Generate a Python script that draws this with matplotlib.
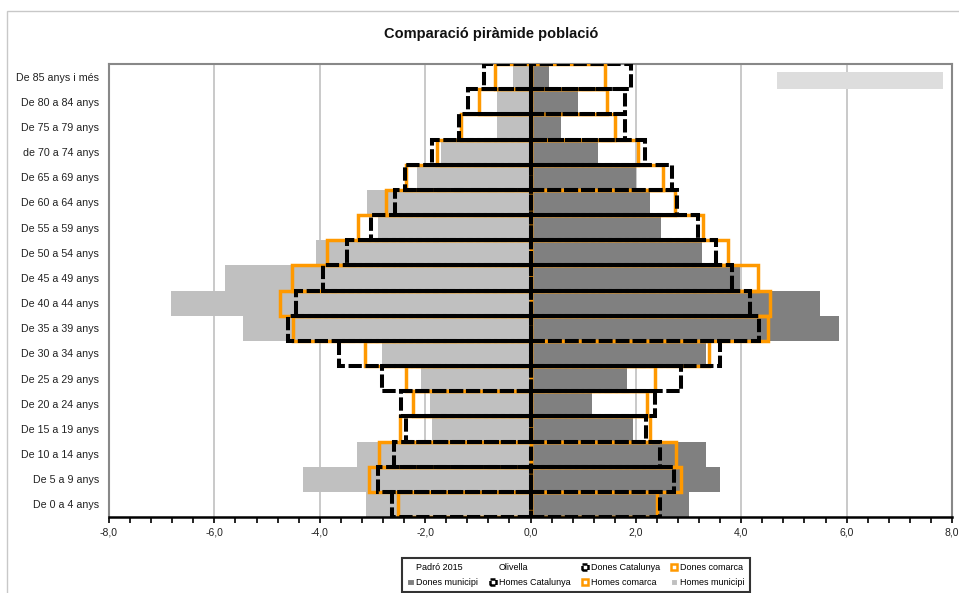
import matplotlib
matplotlib.use('Agg')
import matplotlib.pyplot as plt
import numpy as np
from matplotlib.patches import Patch, Rectangle
from matplotlib.ticker import MultipleLocator, FuncFormatter

plt.rcParams['font.family'] = ['Liberation Sans', 'DejaVu Sans']

# grups d'edat, de baix a dalt
edats = ['De 0 a 4 anys', 'De 5 a 9 anys', 'De 10 a 14 anys', 'De 15 a 19 anys',
         'De 20 a 24 anys', 'De 25 a 29 anys', 'De 30 a 34 anys', 'De 35 a 39 anys',
         'De 40 a 44 anys', 'De 45 a 49 anys', 'De 50 a 54 anys', 'De 55 a 59 anys',
         'De 60 a 64 anys', 'De 65 a 69 anys', 'de 70 a 74 anys', 'De 75 a 79 anys',
         'De 80 a 84 anys', 'De 85 anys i més']

homes_municipi = [3.13, 4.31, 3.29, 1.87, 1.90, 2.07, 2.82, 5.46, 6.83, 5.79,
                  4.07, 2.89, 3.11, 2.16, 1.69, 0.64, 0.64, 0.33]
homes_comarca = [2.52, 3.06, 2.87, 2.48, 2.23, 2.37, 3.15, 4.50, 4.75, 4.52,
                 3.86, 3.28, 2.74, 2.36, 1.78, 1.31, 0.98, 0.67]
homes_catalunya = [2.62, 2.89, 2.59, 2.36, 2.46, 2.82, 3.64, 4.60, 4.45, 3.93,
                   3.48, 3.02, 2.57, 2.38, 1.87, 1.36, 1.18, 0.89]

dones_municipi = [3.01, 3.60, 3.33, 1.94, 1.17, 1.83, 3.34, 5.86, 5.50, 3.98,
                  3.25, 2.48, 2.27, 2.01, 1.29, 0.57, 0.91, 0.35]
dones_comarca = [2.40, 2.85, 2.76, 2.26, 2.22, 2.36, 3.38, 4.50, 4.54, 4.31,
                 3.74, 3.28, 2.75, 2.52, 2.04, 1.61, 1.46, 1.41]
dones_catalunya = [2.45, 2.72, 2.46, 2.20, 2.36, 2.85, 3.60, 4.34, 4.16, 3.82,
                   3.52, 3.17, 2.78, 2.68, 2.18, 1.80, 1.80, 1.91]

# barra gris de dalt a la dreta
caixa_ini = 4.67
caixa_fi = 7.83

taronja = '#FF9900'
gris_fosc = '#808080'
gris_clar = '#C0C0C0'

fig = plt.figure(figsize=(9.59, 5.93), dpi=100)
ax = fig.add_axes([109/959, 1-517/593, (952-109)/959, (517-64)/593])

y = np.arange(len(edats))
hm = -np.array(homes_municipi)
hc = -np.array(homes_comarca)
hcat = -np.array(homes_catalunya)

dash = (0, (3.3, 0.9))

ax.barh(y, hm, height=1.0, color=gris_clar, zorder=2)
ax.barh(y, dones_municipi, height=1.0, color=gris_fosc, zorder=2)

ax.barh(y, hc, height=1.0, facecolor='none', edgecolor=taronja, linewidth=2.5, zorder=3)
ax.barh(y, dones_comarca, height=1.0, facecolor='none', edgecolor=taronja, linewidth=2.5, zorder=3)

ax.barh(y, hcat, height=1.0, facecolor='none', edgecolor='black', linewidth=2.9,
        linestyle=dash, zorder=4)
ax.barh(y, dones_catalunya, height=1.0, facecolor='none', edgecolor='black', linewidth=2.9,
        linestyle=dash, zorder=4)

ax.barh(len(edats) - 1 - 0.16, caixa_fi - caixa_ini, left=caixa_ini, height=0.68,
        color='#DDDDDD', zorder=2)

ax.set_xlim(-8, 8)
ax.set_ylim(-0.5, len(edats) - 0.5)
ax.set_yticks(y)
ax.set_yticklabels(edats, fontsize=7.7, color='#222222')
ax.tick_params(axis='y', length=0, pad=7)

ax.xaxis.set_major_locator(MultipleLocator(2))
ax.xaxis.set_minor_locator(MultipleLocator(0.4))
ax.xaxis.set_major_formatter(FuncFormatter(lambda v, p: ('%.1f' % v).replace('.', ',')))
ax.tick_params(axis='x', which='both', direction='out', length=4, width=1.2,
               labelsize=7.5, pad=3.5, colors='black')
ax.tick_params(axis='x', labelcolor='#222222')

ax.grid(axis='x', which='major', color='#C0C0C0', linewidth=1.2)
ax.set_axisbelow(True)

for s in ['top', 'right', 'left']:
    ax.spines[s].set_color('#888888')
    ax.spines[s].set_linewidth(1.5)
ax.spines['bottom'].set_color('black')
ax.spines['bottom'].set_linewidth(1.8)
ax.spines['bottom'].set_zorder(6)

fig.text(491/959, 1-34/593, 'Comparació piràmide població', ha='center', va='center',
         fontsize=10.5, fontweight='bold', color='#111111')

# vora del grafic
fig.patches.append(Rectangle((7/959, -0.1), 1.2, 1.1 - 11/593, transform=fig.transFigure,
                             facecolor='none', edgecolor='#C8C8C8', linewidth=1.0))

buit = Patch(facecolor='none', edgecolor='none')
handles = [buit,
           Patch(facecolor=gris_fosc, edgecolor='white', linewidth=0.8),
           buit,
           Patch(facecolor='white', edgecolor='black', linewidth=1.8, linestyle=(0, (2, 0.6))),
           Patch(facecolor='white', edgecolor='black', linewidth=1.8, linestyle=(0, (2, 0.6))),
           Patch(facecolor='white', edgecolor=taronja, linewidth=1.8),
           Patch(facecolor='white', edgecolor=taronja, linewidth=1.8),
           Patch(facecolor=gris_clar, edgecolor='white', linewidth=0.8)]
noms = ['Padró 2015', 'Dones municipi', 'Olivella', 'Homes Catalunya',
        'Dones Catalunya', 'Homes comarca', 'Dones comarca', 'Homes municipi']
leg = fig.legend(handles, noms, ncol=4, loc='upper left',
                 bbox_to_anchor=(402/959, 1-558/593, 348/959, 0), mode='expand',
                 borderaxespad=0, fontsize=6.5, handlelength=0.7, handleheight=0.7,
                 handletextpad=0.3, columnspacing=1.0, labelspacing=0.6,
                 fancybox=False, frameon=True, borderpad=0.6)
leg.get_frame().set_edgecolor('black')
leg.get_frame().set_linewidth(1.5)

fig.savefig('out.png', dpi=100)
